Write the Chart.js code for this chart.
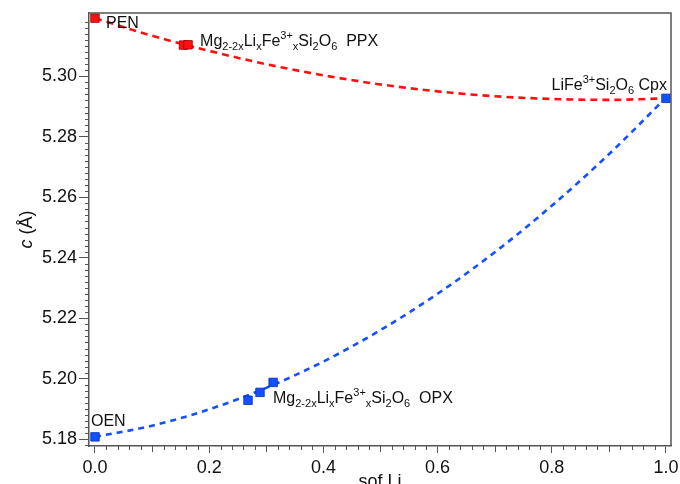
<!DOCTYPE html>
<html><head><meta charset="utf-8">
<script src="https://cdn.jsdelivr.net/npm/chart.js@4/dist/chart.umd.min.js"></script>
<style>html,body{margin:0;padding:0;background:#fff}#wrap{width:680px;height:484px}</style>
</head><body><div id="wrap"><canvas id="c" width="680" height="484"></canvas></div>
<script>
// ---- data ----
const xTicks = [0, 0.2, 0.4, 0.6, 0.8, 1.0];
const yTicks = [5.18, 5.20, 5.22, 5.24, 5.26, 5.28, 5.30];
const ppxX = [0, 0.155, 0.163];
const ppxY = [5.3192, 5.3103, 5.3104];
const opxX = [0, 0.268, 0.289, 0.312, 1.0];
const opxY = [5.1808, 5.1929, 5.1955, 5.1988, 5.2927];
const fitX = [0, 0.1, 0.2, 0.3, 0.4, 0.5, 0.6, 0.7, 0.8, 0.9, 1.0];
const redFitY = [5.3192, 5.3134, 5.3084, 5.3040, 5.3003, 5.2973, 5.2950, 5.2934, 5.2925, 5.2922, 5.2927];
const blueFitY = [5.1808, 5.1845, 5.1899, 5.1970, 5.2057, 5.2161, 5.2281, 5.2418, 5.2572, 5.2742, 5.2929];

const RED = '#ff1010', BLUE = '#1450ff';
const FONT = '"Liberation Sans", Arial, Helvetica, sans-serif';
const pts = (xs, ys) => xs.map((x, i) => ({x, y: ys[i]}));

// annotations: anchor in data coords, pixel offsets
const notes = [
  {x: 0, y: ppxY[0], dx: 11, dy: 10, align: 'left', parts: [['PEN','n']]},
  {x: ppxX[2], y: ppxY[2], dx: 12, dy: 1, align: 'left', parts: [['Mg','n'],['2-2x','sub'],['Li','n'],['x','sub'],['Fe','n'],['3+','sup'],['x','sub'],['Si','n'],['2','sub'],['O','n'],['6','sub'],['  PPX','n']]},
  {x: 1.0, y: opxY[4], dx: 1, dy: -8, align: 'right', parts: [['LiFe','n'],['3+','sup'],['Si','n'],['2','sub'],['O','n'],['6','sub'],[' Cpx','n']]},
  {x: 0, y: opxY[0], dx: -4, dy: -11, align: 'left', parts: [['OEN','n']]},
  {x: opxX[2], y: opxY[2], dx: 13, dy: 11, align: 'left', parts: [['Mg','n'],['2-2x','sub'],['Li','n'],['x','sub'],['Fe','n'],['3+','sup'],['x','sub'],['Si','n'],['2','sub'],['O','n'],['6','sub'],['  OPX','n']]}
];

function drawRich(ctx, x, y, parts, align) {
  const fN = '16px ' + FONT, fS = '11px ' + FONT;
  let w = 0;
  parts.forEach(p => { ctx.font = p[1] === 'n' ? fN : fS; w += ctx.measureText(p[0]).width; });
  let cx = align === 'right' ? x - w : x;
  ctx.textBaseline = 'alphabetic'; ctx.textAlign = 'left'; ctx.fillStyle = '#111';
  parts.forEach(p => {
    ctx.font = p[1] === 'n' ? fN : fS;
    const oy = p[1] === 'sub' ? 4 : (p[1] === 'sup' ? -7 : 0);
    ctx.fillText(p[0], cx, y + oy);
    cx += ctx.measureText(p[0]).width;
  });
}

const decor = {
  id: 'decor',
  afterDraw(chart) {
    const ctx = chart.ctx, a = chart.chartArea;
    const xs = chart.scales.x, ys = chart.scales.y;
    ctx.save();
    // top & right frame
    ctx.strokeStyle = '#555'; ctx.lineWidth = 1.5;
    ctx.beginPath();
    ctx.moveTo(a.left, a.top); ctx.lineTo(a.right, a.top); ctx.lineTo(a.right, a.bottom);
    ctx.stroke();
    // minor ticks
    ctx.lineWidth = 1; ctx.strokeStyle = '#555';
    ctx.beginPath();
    for (let i = 0; i <= 50; i++) {
      const v = i * 0.02;
      if (i % 10 === 0) continue;
      const px = Math.round(xs.getPixelForValue(v)) + 0.5;
      const len = (i % 5 === 0) ? 6 : 4;
      ctx.moveTo(px, a.bottom); ctx.lineTo(px, a.bottom + len);
    }
    for (let i = 0; i <= 72; i++) {
      const v = 5.178 + i * 0.002;
      if (v > ys.max || v < ys.min) continue;
      const k = Math.round(v * 1000);
      if (k % 20 === 0) continue;
      const py = Math.round(ys.getPixelForValue(v)) + 0.5;
      ctx.moveTo(a.left, py); ctx.lineTo(a.left - 4, py);
    }
    ctx.stroke();
    // axis titles
    ctx.fillStyle = '#111';
    ctx.save();
    ctx.translate(32, (a.top + a.bottom) / 2);
    ctx.rotate(-Math.PI / 2);
    ctx.textBaseline = 'alphabetic';
    ctx.font = 'italic 18px ' + FONT;
    const w1 = ctx.measureText('c').width;
    ctx.font = '18px ' + FONT;
    const w2 = ctx.measureText(' (Å)').width;
    ctx.font = 'italic 18px ' + FONT;
    ctx.fillText('c', -(w1 + w2) / 2, 0);
    ctx.font = '18px ' + FONT;
    ctx.fillText(' (Å)', -(w1 + w2) / 2 + w1, 0);
    ctx.restore();
    ctx.font = '18px ' + FONT; ctx.textAlign = 'center'; ctx.textBaseline = 'alphabetic';
    ctx.fillText('sof Li', (a.left + a.right) / 2, 487);
    // annotations
    notes.forEach(n => {
      drawRich(ctx, xs.getPixelForValue(n.x) + n.dx, ys.getPixelForValue(n.y) + n.dy, n.parts, n.align);
    });
    ctx.restore();
  }
};

new Chart(document.getElementById('c'), {
  type: 'scatter',
  data: {
    datasets: [
      {data: pts(ppxX, ppxY), pointStyle: 'rect', pointRadius: 6, backgroundColor: RED, borderColor: '#900', borderWidth: 0.8, order: 0},
      {data: pts(opxX, opxY), pointStyle: 'rect', pointRadius: 6, backgroundColor: BLUE, borderColor: '#0030b0', borderWidth: 0.8, order: 0},
      {data: pts(fitX, redFitY), showLine: true, pointRadius: 0, borderColor: RED, borderWidth: 2.6, borderDash: [7, 5], cubicInterpolationMode: 'monotone', order: 1},
      {data: pts(fitX, blueFitY), showLine: true, pointRadius: 0, borderColor: BLUE, borderWidth: 2.6, borderDash: [6, 5], cubicInterpolationMode: 'monotone', order: 1}
    ]
  },
  options: {
    responsive: false, animation: false, devicePixelRatio: 1,
    layout: {padding: {top: 13, right: 9, left: 0, bottom: 0}},
    plugins: {legend: {display: false}, tooltip: {enabled: false}},
    scales: {
      x: {
        type: 'linear', min: -0.0105, max: 1.0088,
        afterBuildTicks: s => { s.ticks = xTicks.map(v => ({value: v})); },
        afterFit: s => { s.height = 38; s.paddingLeft = 0; s.paddingRight = 0; },
        ticks: {callback: v => Number(v).toFixed(1), font: {family: FONT, size: 18}, color: '#111', padding: 4, maxRotation: 0, autoSkip: false},
        grid: {drawOnChartArea: false, drawTicks: true, tickLength: 7, tickColor: '#555', tickWidth: 1},
        border: {display: true, color: '#555', width: 1.5}
      },
      y: {
        type: 'linear', min: 5.17778, max: 5.32091,
        afterBuildTicks: s => { s.ticks = yTicks.map(v => ({value: v})); },
        afterFit: s => { s.width = 89; s.paddingTop = 0; s.paddingBottom = 0; },
        ticks: {callback: v => Number(v).toFixed(2), font: {family: FONT, size: 18}, color: '#111', padding: 2, autoSkip: false},
        grid: {drawOnChartArea: false, drawTicks: true, tickLength: 10, tickColor: '#555', tickWidth: 1},
        border: {display: true, color: '#555', width: 1.5}
      }
    }
  },
  plugins: [decor]
});
</script></body></html>
